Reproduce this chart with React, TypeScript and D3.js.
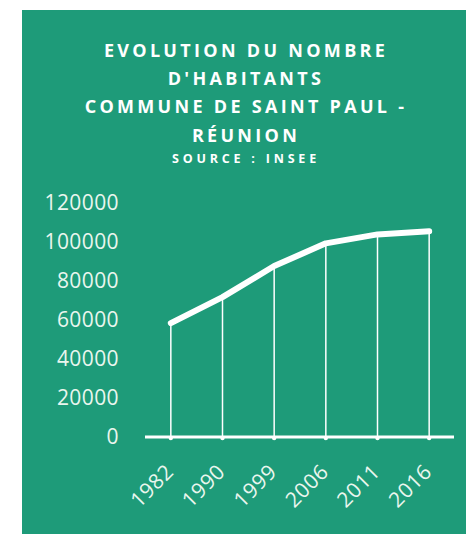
import React from "react";
import * as d3 from "d3";

const years = ["1982", "1990", "1999", "2006", "2011", "2016"];
const population = [58400, 71700, 87700, 99300, 103900, 105500];
const yTicks = [0, 20000, 40000, 60000, 80000, 100000, 120000];
const titleLines = ["EVOLUTION DU NOMBRE", "D'HABITANTS", "COMMUNE DE SAINT PAUL -", "RÉUNION"];
const sourceLine = "SOURCE : INSEE";

const W = 466;
const H = 534;
const BG = "#1e9b79";

export default function App() {
  const x = d3.scaleBand<string>().domain(years).range([145, 455]);
  const y = d3.scaleLinear().domain([0, 120000]).range([437, 203]);
  const cx = (d: string) => (x(d) as number) + x.bandwidth() / 2;
  const line = d3
    .line<number>()
    .x((_, i) => cx(years[i]))
    .y((d) => y(d));

  const titleY = [57, 85, 113, 142];

  return (
    <svg
      width={W}
      height={H}
      style={{ position: "absolute", left: 0, top: 0, display: "block" }}
      fontFamily="'Open Sans', sans-serif"
    >
      <rect x={0} y={0} width={W} height={H} fill="#ffffff" />
      <rect x={22} y={10} width={W - 22} height={H - 10} fill={BG} />
      {titleLines.map((t, i) => (
        <text
          key={t}
          x={246}
          y={titleY[i]}
          textAnchor="middle"
          fill="#ffffff"
          fontWeight={700}
          fontSize={18}
          letterSpacing={3.3}
        >
          {t}
        </text>
      ))}
      <text
        x={246}
        y={163}
        textAnchor="middle"
        fill="#ffffff"
        fontWeight={700}
        fontSize={12.5}
        letterSpacing={3.8}
      >
        {sourceLine}
      </text>

      {yTicks.map((t) => (
        <text
          key={t}
          x={119}
          y={y(t)}
          dy="0.35em"
          textAnchor="end"
          fill="#eaf6ee"
          fontSize={21}
          letterSpacing={0.4}
        >
          {t}
        </text>
      ))}

      {years.map((yr, i) => (
        <line
          key={yr}
          x1={cx(yr)}
          x2={cx(yr)}
          y1={y(population[i])}
          y2={y(0)}
          stroke="#ffffff"
          strokeWidth={1.5}
        />
      ))}

      <line x1={145} x2={454} y1={y(0)} y2={y(0)} stroke="#ffffff" strokeWidth={3} />
      {years.map((yr) => (
        <circle key={yr} cx={cx(yr)} cy={y(0) + 1} r={2.2} fill="#ffffff" />
      ))}

      <path
        d={line(population) as string}
        fill="none"
        stroke="#ffffff"
        strokeWidth={6}
        strokeLinecap="round"
        strokeLinejoin="round"
      />

      {years.map((yr) => (
        <text
          key={yr}
          transform={`translate(${cx(yr) + 4},${y(0) + 36}) rotate(-45)`}
          textAnchor="end"
          fill="#eaf6ee"
          fontSize={21}
          letterSpacing={0.6}
        >
          {yr}
        </text>
      ))}
    </svg>
  );
}
